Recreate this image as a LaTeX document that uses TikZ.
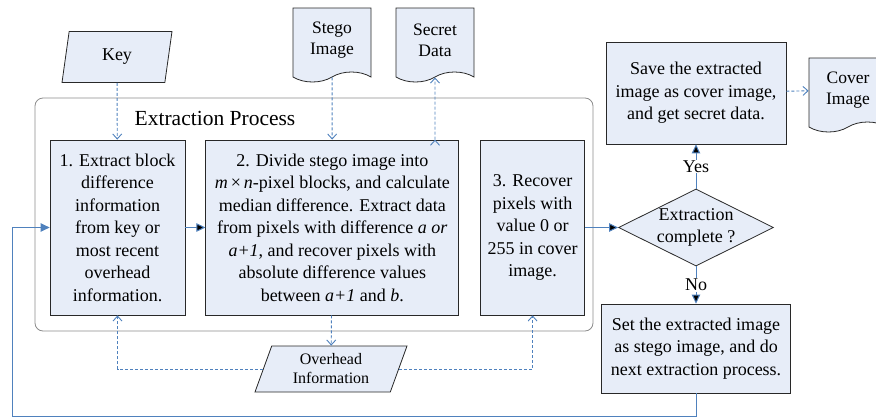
\documentclass[tikz,border=0pt]{standalone}
\usepackage{fontspec}
\setmainfont{Liberation Serif}
\usepackage{tikz}
\usetikzlibrary{arrows.meta, positioning, shapes.geometric, shapes.symbols}

\definecolor{boxfill}{RGB}{231,237,248}
\definecolor{boxline}{RGB}{40,40,40}
\definecolor{arrowc}{RGB}{79,129,189}
\definecolor{framec}{RGB}{140,140,140}

\begin{document}
\begin{tikzpicture}[x=1pt,y=-1pt,semithick]
\tikzstyle{every node}=[font=\fontsize{18pt}{22.5pt}\selectfont]
\tikzstyle{stepbox}=[draw=boxline,fill=boxfill,align=center,inner sep=2pt,line width=0.8pt]
\tikzstyle{doc}=[stepbox,tape,tape bend top=none,tape bend bottom=in and out,tape bend height=10pt,
                 minimum width=78pt,minimum height=74pt,font=\fontsize{17.5pt}{21pt}\selectfont]
\tikzstyle{inout}=[stepbox,trapezium,trapezium stretches body]
\tikzstyle{flow}=[draw=arrowc,-{Triangle[length=9pt,width=8.5pt]},line width=1pt]
\tikzstyle{data}=[draw=arrowc,-{Straight Barb[length=5pt,width=9pt]},dash pattern=on 3pt off 2pt,line width=0.9pt]

        \path[use as bounding box, clip] (0,0) rectangle (876,418);

        % inputs and outputs on top
        \node[inout,trapezium left angle=70,trapezium right angle=110,
              minimum width=110pt,minimum height=51pt]                       (key)    at (117,57)    {Key};
        \node[doc]                                                          (stego)  at (332,40)    {Stego\\Image};
        \node[doc]                                                          (secret) at (435,40)    {Secret\\Data};

        % extraction process frame
        \node[draw=framec,rounded corners=8pt,line width=0.8pt,
              minimum width=558pt,minimum height=233pt]                     (proc)   at (314,214.5) {};
        \node[font=\fontsize{21.5pt}{24pt}\selectfont]                      (title)  at (215,118)   {Extraction Process};

        \node[stepbox,minimum width=135pt,minimum height=175pt]             (b1)     at (117.5,227.5)
             {1. Extract block\\difference\\information\\from key or\\most recent\\overhead\\information.};
        \node[stepbox,minimum width=253pt,minimum height=175pt,right=20pt of b1]           (b2)
             {2. Divide stego image into\\\textit{m}\,×\,\textit{n}-pixel blocks, and calculate\\median difference. Extract data\\from pixels with difference \textit{a or}\\\textit{a+1}, and recover pixels with\\absolute difference values\\between \textit{a+1} and \textit{b}.};
        \node[stepbox,minimum width=104pt,minimum height=175pt,right=21pt of b2]           (b3)
             {3. Recover\\pixels with\\value 0 or\\255 in cover\\image.};

        \node[inout,trapezium left angle=64,trapezium right angle=116,
              minimum width=152pt,minimum height=46pt,
              font=\fontsize{16pt}{19pt}\selectfont]                        (over)   at (331,369)   {Overhead\\Information};

        % decision and results
        \node[stepbox,diamond,aspect=2,inner sep=-4pt,
              minimum width=155pt,minimum height=77pt]                      (dec)    at (696,227.5) {Extraction\\complete ?};
        \node[stepbox,minimum width=180pt,minimum height=102pt]             (save)   at (696,93)    {Save the extracted\\image as cover image,\\and get secret data.};
        \node[doc]                                                          (cover)  at (848,90)    {Cover\\Image};
        \node[stepbox,minimum width=189pt,minimum height=89pt]              (next)   at (696,348.5) {Set the extracted image\\as stego image, and do\\next extraction process.};

        \coordinate (loop) at (12,416);

        \path[data]
        (key)    edge                                 (b1)
        (stego)  edge                                 (b2)
        (b2.north -| secret) edge                     (secret)
        (b2)     edge                                 (over)
        (save)   edge                                 (cover)
        ; %end path

        \draw[data] (over.west) -| (b1.south);
        \draw[data] (over.east) -| (b3.south);

        \path[flow]
        (b1)     edge                                 (b2)
        (b3)     edge                                 (dec)
        (dec)    edge node[fill=white,inner sep=1pt] {Yes} (save)
        (dec)    edge node[fill=white,inner sep=1pt] {No}  (next)
        ; %end path

        \draw[flow] (next.south) -- (next.south |- loop) -- (loop) -- (loop |- b1.west) -- (b1.west);

\end{tikzpicture}
\end{document}
